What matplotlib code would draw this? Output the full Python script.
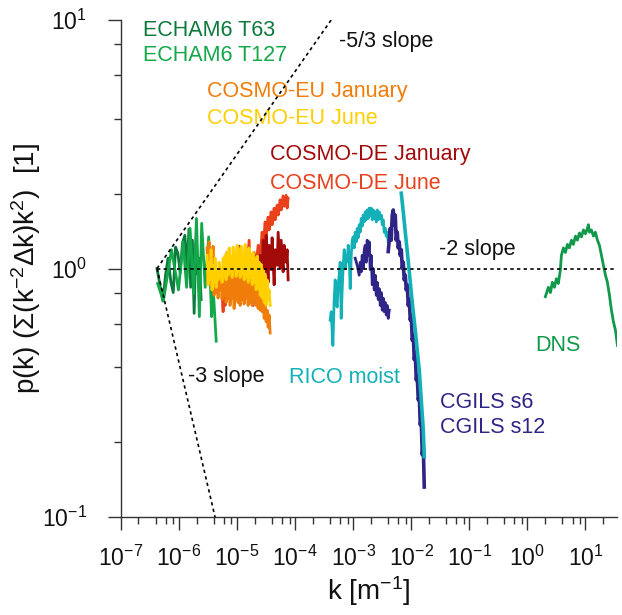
import numpy as np
import matplotlib
matplotlib.use("Agg")
import matplotlib.pyplot as plt
from matplotlib.ticker import LogLocator, NullFormatter

plt.rcParams.update({
    'font.family': ['Liberation Sans', 'DejaVu Sans'],
    'mathtext.fontset': 'custom',
    'mathtext.rm': 'Liberation Sans',
    'mathtext.it': 'Liberation Sans:italic',
    'mathtext.default': 'regular',
})

# ---- data (log10 k [1/m], compensated spectrum p) ----
logk_t63 = [-6.38, -6.33, -6.28, -6.23, -6.19, -6.14, -6.10, -6.06, -6.02, -5.98,
            -5.94, -5.90, -5.86, -5.83, -5.80, -5.77, -5.74, -5.71, -5.68, -5.65, -5.62]
p_t63 = [1.00, 0.86, 0.74, 0.95, 1.10, 0.88, 0.80, 1.22, 1.15, 0.96,
         1.27, 1.36, 1.00, 1.44, 0.84, 1.30, 0.66, 1.25, 0.95, 1.10, 0.75]

logk_t127 = [-6.37, -6.27, -6.13, -6.01, -5.93, -5.87, -5.81, -5.75, -5.70, -5.65,
             -5.61, -5.55, -5.49, -5.44, -5.41, -5.36]
p_t127 = [0.87, 0.74, 1.19, 0.82, 1.28, 0.84, 1.45, 0.79, 1.59, 0.64,
          1.52, 0.84, 1.34, 0.64, 0.82, 0.51]

logk_eu = [-5.517, -5.500, -5.483, -5.466, -5.448, -5.431, -5.414, -5.397, -5.379, -5.362,
           -5.345, -5.328, -5.310, -5.293, -5.276, -5.259, -5.241, -5.224, -5.207, -5.190,
           -5.172, -5.155, -5.138, -5.121, -5.103, -5.086, -5.069, -5.052, -5.034, -5.017,
           -5.000, -4.983, -4.966, -4.948, -4.931, -4.914, -4.897, -4.879, -4.862, -4.845,
           -4.828, -4.810, -4.793, -4.776, -4.759, -4.741, -4.724, -4.707, -4.690, -4.672,
           -4.655, -4.638, -4.621, -4.603, -4.586, -4.569, -4.552, -4.534, -4.517, -4.500,
           -4.483, -4.466, -4.448, -4.431]
p_eu_june = [1.13, 0.86, 1.06, 0.90, 1.19, 0.82, 1.03, 0.88, 1.10, 0.84,
             0.99, 0.90, 1.06, 0.92, 1.00, 0.88, 1.10, 0.93, 1.13, 0.90,
             1.16, 0.94, 1.21, 0.97, 1.12, 0.92, 1.22, 0.99, 1.16, 0.93,
             1.24, 0.97, 1.19, 0.92, 1.23, 0.95, 1.16, 0.90, 1.25, 0.93,
             1.19, 0.88, 1.21, 0.92, 1.14, 0.86, 1.16, 0.88, 1.10, 0.82,
             1.12, 0.83, 1.06, 0.78, 1.04, 0.76, 0.99, 0.73, 0.94, 0.71,
             0.90, 0.75, 0.82, 0.71]
p_eu_jan = [1.21, 0.90, 1.28, 0.86, 1.13, 0.82, 1.23, 0.78, 1.06, 0.80,
            0.99, 0.76, 1.00, 0.82, 0.97, 0.75, 0.99, 0.78, 1.00, 0.73,
            0.97, 0.77, 0.99, 0.71, 0.94, 0.76, 0.99, 0.69, 0.93, 0.75,
            0.97, 0.73, 0.92, 0.71, 0.95, 0.75, 0.90, 0.72, 0.93, 0.76,
            0.88, 0.71, 0.92, 0.73, 0.86, 0.71, 0.88, 0.75, 0.83, 0.71,
            0.82, 0.69, 0.78, 0.68, 0.76, 0.67, 0.75, 0.63, 0.71, 0.61,
            0.68, 0.58, 0.65, 0.55]

logk_de_jan = [-5.241, -5.224, -5.190, -5.172, -5.138, -5.121, -5.086, -5.069, -5.034, -5.017,
               -4.983, -4.966, -4.931, -4.914, -4.879, -4.862, -4.828, -4.810, -4.776, -4.759,
               -4.724, -4.707, -4.672, -4.655, -4.621, -4.603, -4.569, -4.552, -4.517, -4.500,
               -4.466, -4.448, -4.414, -4.397, -4.362, -4.345, -4.310, -4.293, -4.259, -4.241,
               -4.207, -4.190, -4.155, -4.138, -4.121]
p_de_jan = [0.82, 1.06, 0.90, 1.16, 0.80, 1.08, 0.86, 1.00, 0.90, 1.10,
            0.94, 1.23, 0.88, 1.06, 0.82, 0.99, 0.78, 1.03, 0.83, 0.94,
            0.71, 0.99, 0.86, 1.06, 0.90, 1.13, 0.92, 1.30, 0.97, 1.36,
            0.88, 1.24, 0.99, 1.33, 0.86, 1.19, 1.03, 1.40, 1.00, 1.30,
            0.97, 1.24, 1.06, 1.19, 0.90]

logk_de_june = [-5.259, -5.241, -5.224, -5.207, -5.190, -5.172, -5.138, -5.103, -5.069, -5.034,
                -5.000, -4.966, -4.931, -4.897, -4.862, -4.828, -4.793, -4.776, -4.741, -4.707,
                -4.672, -4.638, -4.603, -4.569, -4.552, -4.517, -4.500, -4.466, -4.448, -4.414,
                -4.397, -4.362, -4.345, -4.310, -4.293, -4.259, -4.241, -4.207, -4.190, -4.155,
                -4.138, -4.121]
p_de_june = [0.78, 0.67, 0.86, 0.71, 0.82, 0.75, 0.90, 0.82, 0.94, 0.86,
             0.99, 0.88, 1.00, 0.92, 1.06, 0.97, 1.30, 0.99, 1.06, 1.16,
             1.03, 1.24, 1.13, 1.40, 1.21, 1.54, 1.33, 1.61, 1.43, 1.69,
             1.50, 1.75, 1.57, 1.80, 1.64, 1.89, 1.72, 1.96, 1.78, 1.97,
             1.75, 1.92]

logk_rico_a = [-3.397, -3.379, -3.350, -3.328, -3.310, -3.293, -3.276, -3.259, -3.241, -3.224,
               -3.207, -3.190, -3.172, -3.155, -3.138, -3.121, -3.103, -3.086, -3.069, -3.052,
               -3.034, -3.017, -3.000, -2.983, -2.966, -2.948, -2.931, -2.914, -2.897, -2.879,
               -2.862, -2.845, -2.828, -2.810, -2.793, -2.776, -2.759, -2.741, -2.724, -2.707,
               -2.690, -2.672, -2.655, -2.638, -2.621, -2.603, -2.586, -2.569, -2.552, -2.534,
               -2.517, -2.500, -2.483, -2.466, -2.448, -2.431, -2.414, -2.397]
p_rico_a = [0.62, 0.67, 0.49, 0.75, 0.90, 0.73, 0.70, 0.86, 0.94, 1.06,
            0.63, 0.82, 1.03, 1.19, 1.00, 1.13, 1.06, 1.24, 1.10, 0.83,
            1.13, 1.30, 1.34, 1.21, 1.40, 1.28, 1.45, 1.33, 1.50, 1.40,
            1.59, 1.48, 1.64, 1.54, 1.69, 1.57, 1.72, 1.59, 1.75, 1.63,
            1.75, 1.57, 1.72, 1.59, 1.69, 1.54, 1.72, 1.57, 1.69, 1.59,
            1.64, 1.50, 1.57, 1.40, 1.45, 1.35, 1.40, 1.28]
logk_rico_b = [-2.172, -2.138, -2.103, -2.069, -2.034, -2.000, -1.966, -1.931, -1.897, -1.862,
               -1.828, -1.793, -1.776]
p_rico_b = [2.01, 1.69, 1.40, 1.17, 0.97, 0.80, 0.67, 0.565, 0.47, 0.39,
            0.296, 0.225, 0.175]

logk_cgils_a = [-2.966, -2.931, -2.897, -2.879, -2.862, -2.845, -2.828, -2.810, -2.793, -2.776,
                -2.759, -2.741, -2.724, -2.707, -2.690, -2.672, -2.655, -2.638, -2.621, -2.603,
                -2.586, -2.569, -2.552, -2.534, -2.517, -2.500, -2.483, -2.466, -2.448, -2.431,
                -2.414, -2.397, -2.379]
p_cgils_a = [1.10, 1.03, 0.94, 1.06, 0.97, 1.13, 1.00, 1.19, 1.24, 1.06,
             1.30, 1.13, 1.28, 0.99, 1.13, 0.86, 1.00, 0.82, 0.94, 0.78,
             0.88, 0.75, 0.83, 0.71, 0.80, 0.68, 0.76, 0.67, 0.73, 0.65,
             0.71, 0.63, 0.68]
logk_cgils_b = [-2.397, -2.379, -2.362, -2.345, -2.328, -2.310, -2.293, -2.276, -2.259, -2.241,
                -2.224, -2.207, -2.190, -2.172, -2.155, -2.138, -2.121, -2.103, -2.086, -2.069,
                -2.052, -2.034, -2.017, -2.000, -1.983, -1.966, -1.948, -1.931, -1.914, -1.897,
                -1.879, -1.862, -1.845, -1.828, -1.810, -1.793, -1.776]
p_cgils_b = [1.17, 1.30, 1.45, 1.30, 1.64, 1.72, 1.50, 1.64, 1.30, 1.40,
             1.21, 1.28, 1.13, 1.19, 1.00, 1.06, 0.90, 0.94, 0.82, 0.86,
             0.71, 0.75, 0.62, 0.65, 0.515, 0.54, 0.43, 0.46, 0.356, 0.37,
             0.296, 0.31, 0.235, 0.246, 0.178, 0.195, 0.132]

logk_dns = [0.310, 0.362, 0.397, 0.431, 0.466, 0.500, 0.534, 0.569, 0.586, 0.621,
            0.655, 0.690, 0.724, 0.759, 0.793, 0.828, 0.862, 0.897, 0.931, 0.966,
            1.000, 1.034, 1.052, 1.069, 1.103, 1.138, 1.172, 1.207, 1.241, 1.276,
            1.310, 1.345, 1.379, 1.414, 1.448, 1.483, 1.517, 1.552]
p_dns = [0.77, 0.84, 0.80, 0.88, 0.84, 0.91, 0.87, 0.99, 1.13, 1.21,
         1.16, 1.25, 1.21, 1.30, 1.25, 1.35, 1.30, 1.39, 1.34, 1.43,
         1.38, 1.45, 1.50, 1.40, 1.43, 1.35, 1.40, 1.30, 1.24, 1.13,
         1.03, 0.94, 0.88, 0.78, 0.68, 0.61, 0.565, 0.49]

# reference slopes, all starting at the same corner point
k0 = 4.17e-7
k_flat = [k0, 35.0]
p_flat = [1.0, 1.0]
k_53 = [k0, k0 * 1e3]
p_53 = [1.0, 10.0]
k_3 = [k0, k0 * 10]
p_3 = [1.0, 0.1]

def k(lk):
    return 10.0 ** np.array(lk)

c_t63 = '#0d7a3d'
c_t127 = '#14a84b'
c_eu_jan = '#f07d0a'
c_eu_june = '#ffcf00'
c_de_jan = '#a30b0b'
c_de_june = '#e8411c'
c_rico = '#13b1b7'
c_cgils = '#2f2586'
c_dns = '#11994a'

fig = plt.figure(figsize=(6.22, 6.15), dpi=100)
ax = fig.add_axes([121/622, 1 - 517/615, 496/622, 497/615])

lw = 2.0
ref = dict(color='black', lw=1.2, ls=(0, (2, 2)), zorder=5)
ax.plot(k_flat, p_flat, **ref)
ax.plot(k_53, p_53, **ref)
ax.plot(k_3, p_3, **ref)

ax.plot(k(logk_t63), p_t63, color=c_t63, lw=lw)
ax.plot(k(logk_t127), p_t127, color=c_t127, lw=lw)
ax.plot(k(logk_de_june), p_de_june, color=c_de_june, lw=lw)
ax.plot(k(logk_de_jan), p_de_jan, color=c_de_jan, lw=lw)
ax.plot(k(logk_eu), p_eu_jan, color=c_eu_jan, lw=lw)
ax.plot(k(logk_eu), p_eu_june, color=c_eu_june, lw=lw)
ax.plot(k(logk_rico_a), p_rico_a, color=c_rico, lw=lw)
ax.plot(k(logk_cgils_a), p_cgils_a, color=c_cgils, lw=lw)
ax.plot(k(logk_cgils_b), p_cgils_b, color=c_cgils, lw=2.6)
ax.plot(k(logk_rico_b), p_rico_b, color=c_rico, lw=2.6)
ax.plot(k(logk_dns), p_dns, color=c_dns, lw=lw)

ax.set_xscale('log')
ax.set_yscale('log')
ax.set_xlim(1e-7, 35.0)
ax.set_ylim(0.1, 10)

ax.xaxis.set_major_locator(LogLocator(base=10, numticks=20))
ax.xaxis.set_minor_locator(LogLocator(base=10, subs=(2, 4, 6, 8), numticks=20))
ax.yaxis.set_minor_locator(LogLocator(base=10, subs=(2, 4, 6, 8), numticks=20))
ax.xaxis.set_minor_formatter(NullFormatter())
ax.yaxis.set_minor_formatter(NullFormatter())

for s in ['top', 'right']:
    ax.spines[s].set_visible(False)
for s in ['left', 'bottom']:
    ax.spines[s].set_color('#333333')
    ax.spines[s].set_linewidth(1.0)
ax.tick_params(which='major', direction='out', length=9.5, width=1.0, color='#333333',
               labelsize=16.5, labelcolor='#111111')
ax.tick_params(which='minor', direction='out', length=5, width=1.0, color='#333333')
ax.tick_params(axis='x', which='major', pad=11)
ax.tick_params(axis='y', which='major', pad=15)

ax.set_xlabel(r'k [m$^{-1}$]', fontsize=20, color='#111111')
ax.xaxis.set_label_coords(0.5, -0.115)
ax.set_ylabel(r'p(k) (Σ(k$^{-2}$Δk)k$^{2}$)  [1]', fontsize=20, color='#111111')
ax.yaxis.set_label_coords(-0.158, 0.5)

fs = 15.5
tr = ax.transAxes
ax.text(0.0444, 0.967, 'ECHAM6 T63', color=c_t63, fontsize=fs, transform=tr)
ax.text(0.0444, 0.917, 'ECHAM6 T127', color=c_t127, fontsize=fs, transform=tr)
ax.text(0.1734, 0.8447, 'COSMO-EU January', color=c_eu_jan, fontsize=fs, transform=tr)
ax.text(0.1734, 0.7913, 'COSMO-EU June', color=c_eu_june, fontsize=fs, transform=tr)
ax.text(0.3004, 0.7179, 'COSMO-DE January', color=c_de_jan, fontsize=fs, transform=tr)
ax.text(0.3004, 0.6606, 'COSMO-DE June', color=c_de_june, fontsize=fs, transform=tr)
ax.text(0.4395, 0.9453, '-5/3 slope', color='#111111', fontsize=fs, transform=tr)
ax.text(0.6418, 0.5268, '-2 slope', color='#111111', fontsize=fs, transform=tr)
ax.text(0.1344, 0.2722, '-3 slope', color='#111111', fontsize=fs, transform=tr)
ax.text(0.3387, 0.2692, 'RICO moist', color=c_rico, fontsize=fs, transform=tr)
ax.text(0.8347, 0.3346, 'DNS', color=c_dns, fontsize=fs, transform=tr)
ax.text(0.6431, 0.2189, 'CGILS s6', color=c_cgils, fontsize=fs, transform=tr)
ax.text(0.6431, 0.1682, 'CGILS s12', color=c_cgils, fontsize=fs, transform=tr)

fig.savefig('out.png', dpi=100)
